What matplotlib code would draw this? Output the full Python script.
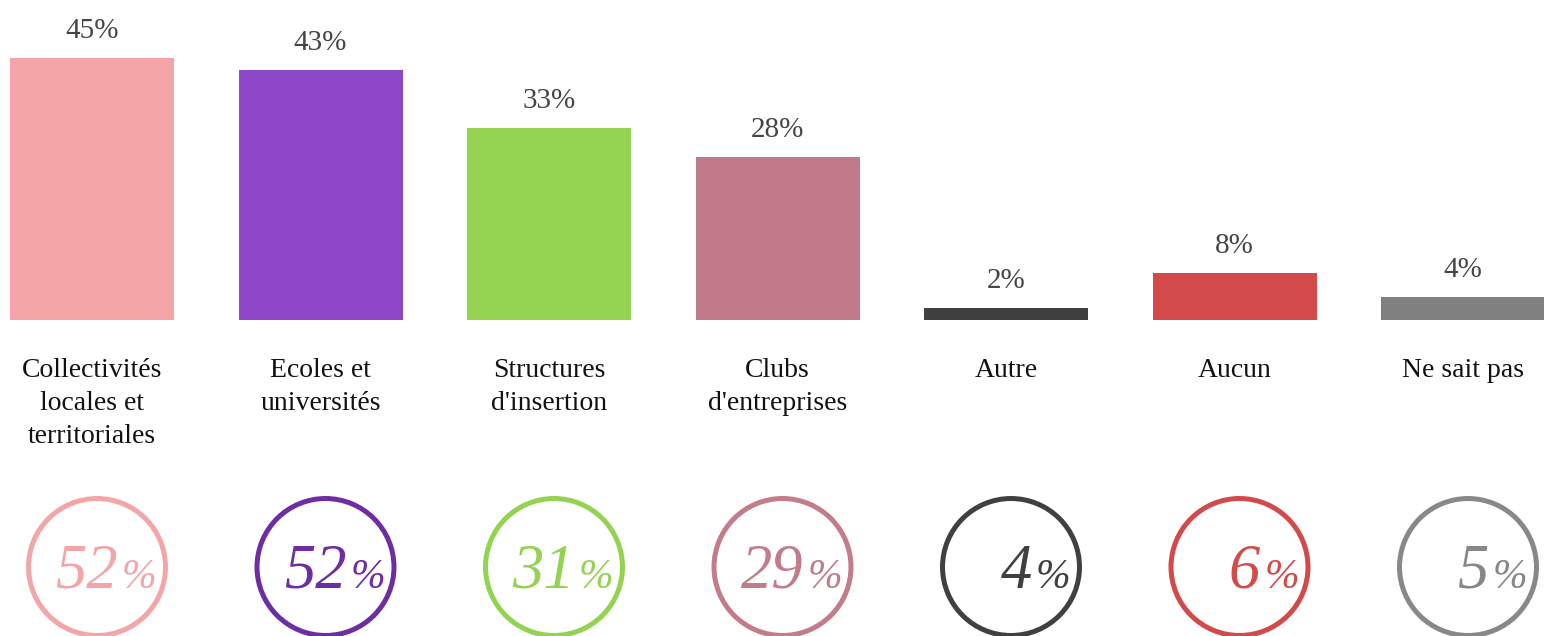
import matplotlib
matplotlib.use("Agg")
import matplotlib.pyplot as plt
import numpy as np

categories = ["Collectivités\nlocales et\nterritoriales", "Ecoles et\nuniversités",
              "Structures\nd'insertion", "Clubs\nd'entreprises", "Autre", "Aucun", "Ne sait pas"]
bar_values = [45, 43, 33, 28, 2, 8, 4]
circle_values = [52, 52, 31, 29, 4, 6, 5]
bar_colors = ["#F3A5A8", "#8E47C7", "#94D251", "#BF7988", "#404040", "#D24B4A", "#808080"]
circle_colors = ["#F3A5A8", "#6D2EA3", "#94D251", "#C27C8B", "#404040", "#D24B4A", "#888888"]

plt.rcParams["font.family"] = ["Liberation Serif", "DejaVu Serif"]

W, H, DPI = 1544, 636, 100
fig = plt.figure(figsize=(W / DPI, H / DPI), dpi=DPI)

# pixel layout helpers
step = 228.5
x0 = 92
xlim = (-x0 / step, (W - x0) / step)
px_per_pct = 5.82
base_px = 320  # baseline of bars from top

x = np.arange(len(categories))

# bars
ax = fig.add_axes([0, (H - base_px) / H, 1, base_px / H])
ax.bar(x, bar_values, width=164 / step, color=bar_colors)
ax.set_xlim(*xlim)
ax.set_ylim(0, base_px / px_per_pct)
ax.axis("off")
for xi, v in zip(x, bar_values):
    ax.annotate(f"{v}%", (xi, v), xytext=(0, 14.5), textcoords="offset points",
                ha="center", va="baseline", fontsize=21, color="#454545",
                annotation_clip=False)

# category labels
for xi, c in zip(x, categories):
    ax.annotate(c, (xi, 0), xytext=(0, -27.5), textcoords="offset points",
                ha="center", va="top", fontsize=20, color="#111111",
                linespacing=1.42, annotation_clip=False)

# circles row
cy_px = 567
ax2 = fig.add_axes([0, 0, 1, 2 * (H - cy_px) / H])
ax2.set_xlim(*xlim)
ax2.set_ylim(0, 1)
ax2.axis("off")
shift = matplotlib.transforms.ScaledTranslation(5 / DPI, 0, fig.dpi_scale_trans)
ax2.scatter(x, np.full(len(x), 0.5), s=9725, facecolors="none",
            edgecolors=circle_colors, linewidths=3.6, clip_on=False,
            transform=ax2.transData + shift)
for xi, v, col in zip(x, circle_values, circle_colors):
    ax2.annotate(f"{v}", (xi, 0.5), xytext=(18.5, -15), textcoords="offset points",
                 ha="right", va="baseline", fontsize=45, style="italic", color=col,
                 annotation_clip=False)
    ax2.annotate("%", (xi, 0.5), xytext=(21.5, -15), textcoords="offset points",
                 ha="left", va="baseline", fontsize=30, style="italic", color=col,
                 annotation_clip=False)

fig.savefig("out.png", dpi=DPI)
